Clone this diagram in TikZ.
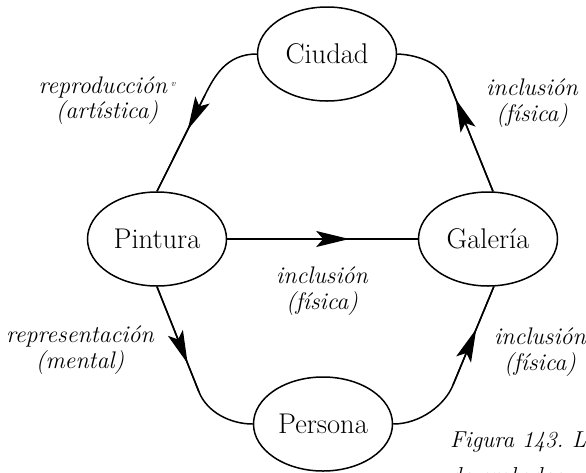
\documentclass[tikz,border=0pt]{standalone}
\usetikzlibrary{shapes.geometric,arrows.meta,decorations.markings}
\begin{document}
\begin{tikzpicture}[x=1pt,y=-1pt,
  ent/.style={ellipse,draw,line width=1.5pt,minimum width=139pt,minimum height=94pt,inner sep=0pt,font=\fontsize{28.5}{32}\selectfont},
  lab/.style={font=\fontsize{24}{25.5}\selectfont\itshape,align=center,inner sep=0pt},
  captxt/.style={font=\fontsize{23}{26}\selectfont\itshape,anchor=base west,inner sep=0pt},
  conn/.style={line width=1.5pt},
  arrowat/.style={postaction={decorate},decoration={markings,mark=at position #1 with {\arrow{Stealth[length=33pt,width=16pt,inset=7pt]}}}}]
\useasboundingbox (0,0) rectangle (586,472);
\clip (0,0) rectangle (586,472);

\node[ent] (C) at (327,54) {Ciudad};
\node[ent] (P) at (157,239) {Pintura};
\node[ent] (G) at (488,239) {Galería};
\node[ent] (Pe) at (323,424) {Persona};

\coordinate (k1) at (205,95);
\coordinate (k2) at (448,80);
\coordinate (k3) at (199,392);
\coordinate (k4) at (453,385);

% Ciudad -> Pintura
\draw[conn] (C.west) .. controls (226,54) and (214,77) .. (k1) -- (P.north);
\draw[conn,arrowat=0.36] (k1) -- (P.north);
% Galeria -> Ciudad
\draw[conn] (G.84) -- (k2) .. controls (442,66) and (422,55) .. (C.east);
\draw[conn,arrowat=0.83] (G.84) -- (k2);
% Pintura -> Galeria
\draw[conn,arrowat=0.64] (P.east) -- (G.west);
% Pintura -> Persona
\draw[conn] (P.south) -- (k3) .. controls (207,412) and (230,424) .. (Pe.west);
\draw[conn,arrowat=0.73] (P.south) -- (k3);
% Persona -> Galeria
\draw[conn] (Pe.east) .. controls (420,424) and (445,405) .. (k4) -- (G.-83);
\draw[conn,arrowat=0.57] (k4) -- (G.-83);

\node[lab] (l1) at (107,100.5) {reproducción\raisebox{0.6ex}{\fontsize{9}{9}\selectfont\hspace{4pt}v}\\(artística)};
\node[lab] (l2) at (532,103) {inclusión\\(física)};
\node[lab] (l3) at (322,291) {inclusión\\(física)};
\node[lab] (l4) at (80,350) {representación\\(mental)};
\node[lab] (l5) at (540,352) {inclusión\\(física)};

\node[captxt] (c1) at (450,447) {\makebox[122pt][l]{Figura 143.}L};
\node[captxt] (c2) at (450,483) {de grabados};
\end{tikzpicture}
\end{document}
